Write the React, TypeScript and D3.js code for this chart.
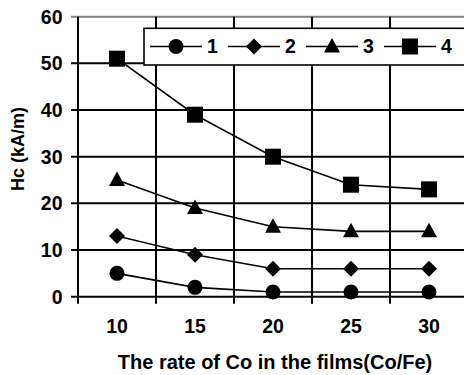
import React from "react";
import * as d3 from "d3";

// Co content of the films (Co/Fe rate)
const categories = ["10", "15", "20", "25", "30"];
// Coercivity Hc (kA/m) for each sample series
const series1 = [5, 2, 1, 1, 1];
const series2 = [13, 9, 6, 6, 6];
const series3 = [25, 19, 15, 14, 14];
const series4 = [51, 39, 30, 24, 23];
const seriesNames = ["1", "2", "3", "4"];
const yTicks = [0, 10, 20, 30, 40, 50, 60];

const W = 464;
const H = 375;
const plotLeft = 78;
const plotRight = 468;
const plotTop = 16.7;
const plotBottom = 296.7;
const FONT = "'Liberation Sans', Arial, Helvetica, sans-serif";

type Shape = "circle" | "diamond" | "triangle" | "square";
const shapes: Shape[] = ["circle", "diamond", "triangle", "square"];

function Marker({ shape, x, y }: { shape: Shape; x: number; y: number }) {
  if (shape === "circle") return <circle cx={x} cy={y} r={7.5} fill="#000" />;
  if (shape === "square")
    return <rect x={x - 8} y={y - 8} width={16} height={16} fill="#000" />;
  if (shape === "diamond")
    return (
      <path
        d={`M${x},${y - 8}L${x + 8},${y}L${x},${y + 8}L${x - 8},${y}Z`}
        fill="#000"
      />
    );
  return (
    <path
      d={`M${x},${y - 8.5}L${x + 8},${y + 6}L${x - 8},${y + 6}Z`}
      fill="#000"
    />
  );
}

export default function App() {
  const x = d3
    .scaleBand<string>()
    .domain(categories)
    .range([plotLeft, plotRight])
    .padding(0);
  const y = d3.scaleLinear().domain([0, 60]).range([plotBottom, plotTop]);
  const allSeries = [series1, series2, series3, series4];
  const line = d3
    .line<number>()
    .x((_, i) => (x(categories[i]) as number) + x.bandwidth() / 2)
    .y((d) => y(d));

  const boundaries = categories.map((c) => x(c) as number).slice(1);
  boundaries.push(plotRight);

  const legendY = 46.5;
  const legendX0 = 176;
  const legendStep = 78;

  return (
    <svg
      width={W}
      height={H}
      style={{ position: "absolute", left: 0, top: 0, background: "#fff" }}
      fontFamily={FONT}
      fontWeight="bold"
    >
      <rect width={W} height={H} fill="#fff" />
      {/* horizontal gridlines with left tick marks */}
      {yTicks.map((t) => (
        <line
          key={"h" + t}
          x1={plotLeft - 7}
          x2={W}
          y1={y(t)}
          y2={y(t)}
          stroke={t === 60 ? "#808080" : "#000"}
          strokeWidth={2}
        />
      ))}
      {/* vertical gridlines at category boundaries, extending into tick marks */}
      {boundaries.map((b, i) => (
        <line
          key={"v" + i}
          x1={b}
          x2={b}
          y1={plotTop}
          y2={plotBottom + 7}
          stroke="#000"
          strokeWidth={2}
        />
      ))}
      {/* y axis */}
      <line
        x1={plotLeft}
        x2={plotLeft}
        y1={plotTop}
        y2={plotBottom + 7}
        stroke="#000"
        strokeWidth={2}
      />
      {/* y tick labels */}
      {yTicks.map((t) => (
        <text
          key={"yl" + t}
          x={62.5}
          y={y(t) + 6.8}
          textAnchor="end"
          fontSize={19.5}
          fill="#000"
        >
          {t}
        </text>
      ))}
      {/* x tick labels */}
      {categories.map((c) => (
        <text
          key={"xl" + c}
          x={(x(c) as number) + x.bandwidth() / 2}
          y={333.3}
          textAnchor="middle"
          fontSize={19.5}
          fill="#000"
        >
          {c}
        </text>
      ))}
      {/* data series */}
      {allSeries.map((s, si) => (
        <g key={"s" + si}>
          <path d={line(s) as string} fill="none" stroke="#000" strokeWidth={1.6} />
          {s.map((v, i) => (
            <Marker
              key={i}
              shape={shapes[si]}
              x={(x(categories[i]) as number) + x.bandwidth() / 2}
              y={y(v)}
            />
          ))}
        </g>
      ))}
      {/* legend */}
      <rect
        x={144}
        y={28.3}
        width={340}
        height={36.7}
        fill="#fff"
        stroke="#000"
        strokeWidth={1.6}
      />
      {seriesNames.map((n, i) => {
        const cx = legendX0 + i * legendStep;
        return (
          <g key={"lg" + n}>
            <line
              x1={cx - 26}
              x2={cx + 26}
              y1={legendY}
              y2={legendY}
              stroke="#000"
              strokeWidth={1.6}
            />
            <Marker shape={shapes[i]} x={cx} y={legendY} />
            <text x={cx + 31} y={legendY + 6.8} fontSize={19.5} fill="#000">
              {n}
            </text>
          </g>
        );
      })}
      {/* axis titles */}
      <text x={275} y={369} textAnchor="middle" fontSize={20} fill="#000">
        The rate of Co in the films(Co/Fe)
      </text>
      <text
        transform={`translate(24,149) rotate(-90)`}
        textAnchor="middle"
        fontSize={18}
        fill="#000"
      >
        Hc (kA/m)
      </text>
    </svg>
  );
}
